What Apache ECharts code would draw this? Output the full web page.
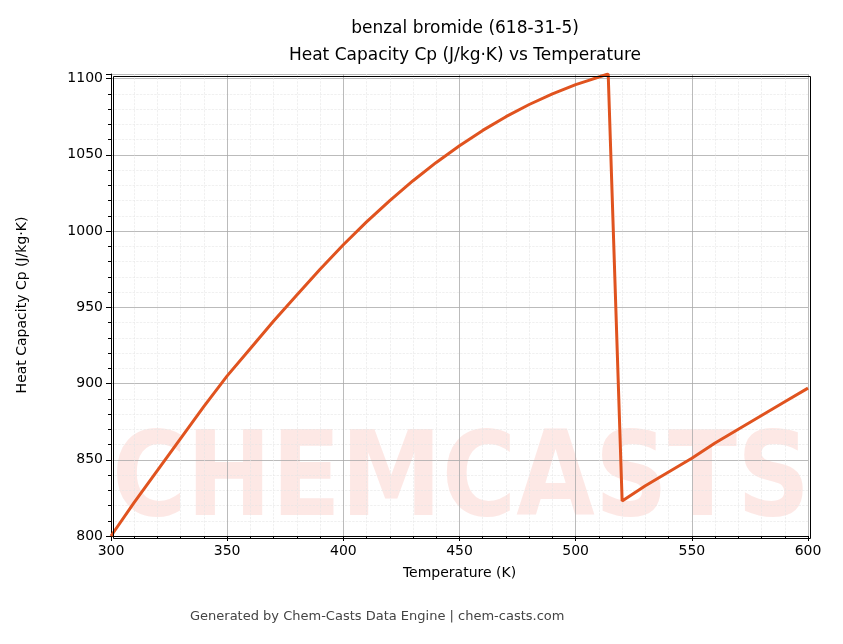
<!DOCTYPE html>
<html><head><meta charset="utf-8">
<script src="https://cdn.jsdelivr.net/npm/echarts@6/dist/echarts.min.js"></script>
<style>html,body{margin:0;padding:0;background:#fff}#c{width:843px;height:644px}</style>
</head><body><div id="c"></div>
<script>
const temps = [300,310,320,330,340,350,360,370,380,390,400,410,420,430,440,450,460,470,480,490,500,505,510,514,520,530,540,550,560,570,580,590,600];
const cp = [800,822,843,864,885,905,923,941,958,975,991,1006,1020,1033,1045,1056,1066,1075,1083,1090,1096,1098.5,1101,1103,823,833,842,851,861,870,879,888,897];
const chart = echarts.init(document.getElementById('c'));
const F = 'DejaVu Sans';
chart.setOption({
  animation:false,
  title:{text:'benzal bromide (618-31-5)\nHeat Capacity Cp (J/kg·K) vs Temperature',left:460,top:10,textAlign:'center',
    textStyle:{fontFamily:F,fontSize:17,fontWeight:'normal',color:'#000',lineHeight:27}},
  graphic:[
    {type:'text',left:112,top:425,z:0,style:{text:'CHEMCASTS',font:'bold 118px DejaVu Sans',fill:'rgba(250,190,180,0.35)'},scaleX:0.86},
    {type:'rect',left:111,top:74,shape:{width:697,height:462},style:{fill:'none',stroke:'#000',lineWidth:1},z:10},
    {type:'text',left:190,top:610,style:{text:'Generated by Chem-Casts Data Engine | chem-casts.com',font:'13px DejaVu Sans',fill:'#444'}}
  ],
  grid:{left:111,right:35,top:74,bottom:108},
  xAxis:{type:'value',min:300,max:600,interval:50,name:'Temperature (K)',nameLocation:'middle',nameGap:30,
    nameTextStyle:{fontFamily:F,fontSize:14,color:'#000'},
    axisLine:{lineStyle:{color:'#000'}},axisTick:{lineStyle:{color:'#000'},length:5},
    minorTick:{show:true,splitNumber:5,length:3,lineStyle:{color:'#000'}},
    axisLabel:{fontFamily:F,fontSize:14,color:'#000'},
    splitLine:{lineStyle:{color:'#aaa',width:0.8}},minorSplitLine:{show:true,lineStyle:{color:'#e6e6e6',type:'dashed',width:0.6}}},
  yAxis:{type:'value',min:800,max:1103,interval:50,name:'Heat Capacity Cp (J/kg·K)',nameLocation:'middle',nameGap:82,
    nameTextStyle:{fontFamily:F,fontSize:14,color:'#000'},
    axisLine:{show:true,lineStyle:{color:'#000'}},axisTick:{show:true,lineStyle:{color:'#000'},length:5},
    minorTick:{show:true,splitNumber:5,length:3,lineStyle:{color:'#000'}},
    axisLabel:{fontFamily:F,fontSize:14,color:'#000',showMaxLabel:false,formatter:v=>String(v)},
    splitLine:{lineStyle:{color:'#aaa',width:0.8}},minorSplitLine:{show:true,lineStyle:{color:'#e6e6e6',type:'dashed',width:0.6}}},
  series:[{type:'line',data:temps.map((t,i)=>[t,cp[i]]),showSymbol:false,smooth:false,
    lineStyle:{color:'#e0531f',width:3},z:5}]
});
</script></body></html>
